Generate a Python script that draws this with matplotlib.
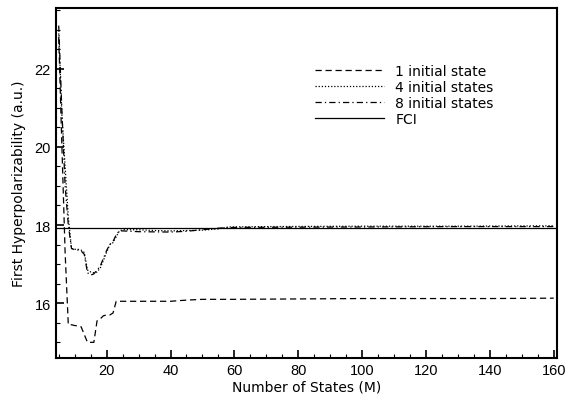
import matplotlib
matplotlib.use("Agg")
import matplotlib.pyplot as plt
from matplotlib.ticker import MultipleLocator

m1 = [5, 6, 7, 8, 9, 10, 11, 12, 13, 14, 15, 16, 17, 18, 19, 20, 21, 22, 23, 24, 30, 40, 45, 50, 60, 80, 100, 120, 140, 160]
y1 = [22.8, 20.0, 17.3, 15.45, 15.45, 15.43, 15.42, 15.4, 15.2, 15.0, 15.0, 15.0, 15.55, 15.6, 15.68, 15.7, 15.7, 15.75, 16.05, 16.05, 16.05, 16.05, 16.08, 16.1, 16.1, 16.11, 16.12, 16.12, 16.12, 16.13]

m4 = [5, 6, 7, 8, 9, 10, 11, 12, 13, 14, 15, 16, 17, 18, 19, 20, 21, 22, 23, 24, 25, 30, 35, 40, 45, 50, 55, 58, 70, 100, 130, 160]
y4 = [22.9, 20.8, 19.5, 18.2, 17.4, 17.38, 17.38, 17.36, 17.3, 16.85, 16.8, 16.78, 16.8, 16.9, 17.1, 17.3, 17.5, 17.55, 17.7, 17.85, 17.88, 17.88, 17.86, 17.85, 17.86, 17.87, 17.9, 17.95, 17.96, 17.97, 17.97, 17.98]

m8 = [5, 6, 7, 8, 9, 10, 11, 12, 13, 14, 15, 16, 17, 18, 19, 20, 21, 22, 23, 24, 25, 30, 40, 45, 50, 55, 60, 100, 130, 160]
y8 = [23.1, 20.9, 19.0, 18.0, 17.4, 17.37, 17.36, 17.34, 17.25, 16.78, 16.72, 16.75, 16.85, 16.95, 17.15, 17.35, 17.5, 17.58, 17.75, 17.85, 17.85, 17.83, 17.82, 17.84, 17.88, 17.92, 17.94, 17.95, 17.96, 17.96]

fci = 17.93

labels = ["1 initial state", "4 initial states", "8 initial states", "FCI"]

fig = plt.figure(figsize=(5.79, 4.02), dpi=100)
ax = fig.add_axes([0.0959, 0.107, 0.866, 0.8706])

ax.plot(m1, y1, color="black", lw=0.9, linestyle=(0, (5, 3)), label=labels[0])
ax.plot(m4, y4, color="black", lw=0.9, linestyle=(0, (1, 1.5)), label=labels[1])
ax.plot(m8, y8, color="black", lw=0.9, linestyle=(0, (5, 2.5, 1, 2.5)), label=labels[2])
ax.axhline(fci, color="black", lw=0.9, label=labels[3])

ax.set_xlim(4, 161)
ax.set_ylim(14.6, 23.55)
ax.xaxis.set_major_locator(MultipleLocator(20))
ax.xaxis.set_minor_locator(MultipleLocator(5))
ax.yaxis.set_major_locator(MultipleLocator(2))
ax.yaxis.set_minor_locator(MultipleLocator(0.5))
ax.tick_params(which="major", direction="in", length=6, width=1.2, top=False, right=False)
ax.tick_params(which="minor", direction="in", length=3, width=0.8, top=False, right=False)
for lab in ax.get_xticklabels() + ax.get_yticklabels():
    lab.set_fontfamily("Liberation Sans")
    lab.set_fontsize(10.5)
for s in ax.spines.values():
    s.set_linewidth(1.5)

ax.set_xlabel("Number of States (M)", fontsize=10, labelpad=2)
ax.set_ylabel("First Hyperpolarizability (a.u.)", fontsize=10, labelpad=6)

ax.legend(loc="upper left", bbox_to_anchor=(0.492, 0.875), frameon=False, fontsize=10,
          handlelength=5, handletextpad=0.8, labelspacing=0.13)

fig.savefig("out.png", dpi=100)
